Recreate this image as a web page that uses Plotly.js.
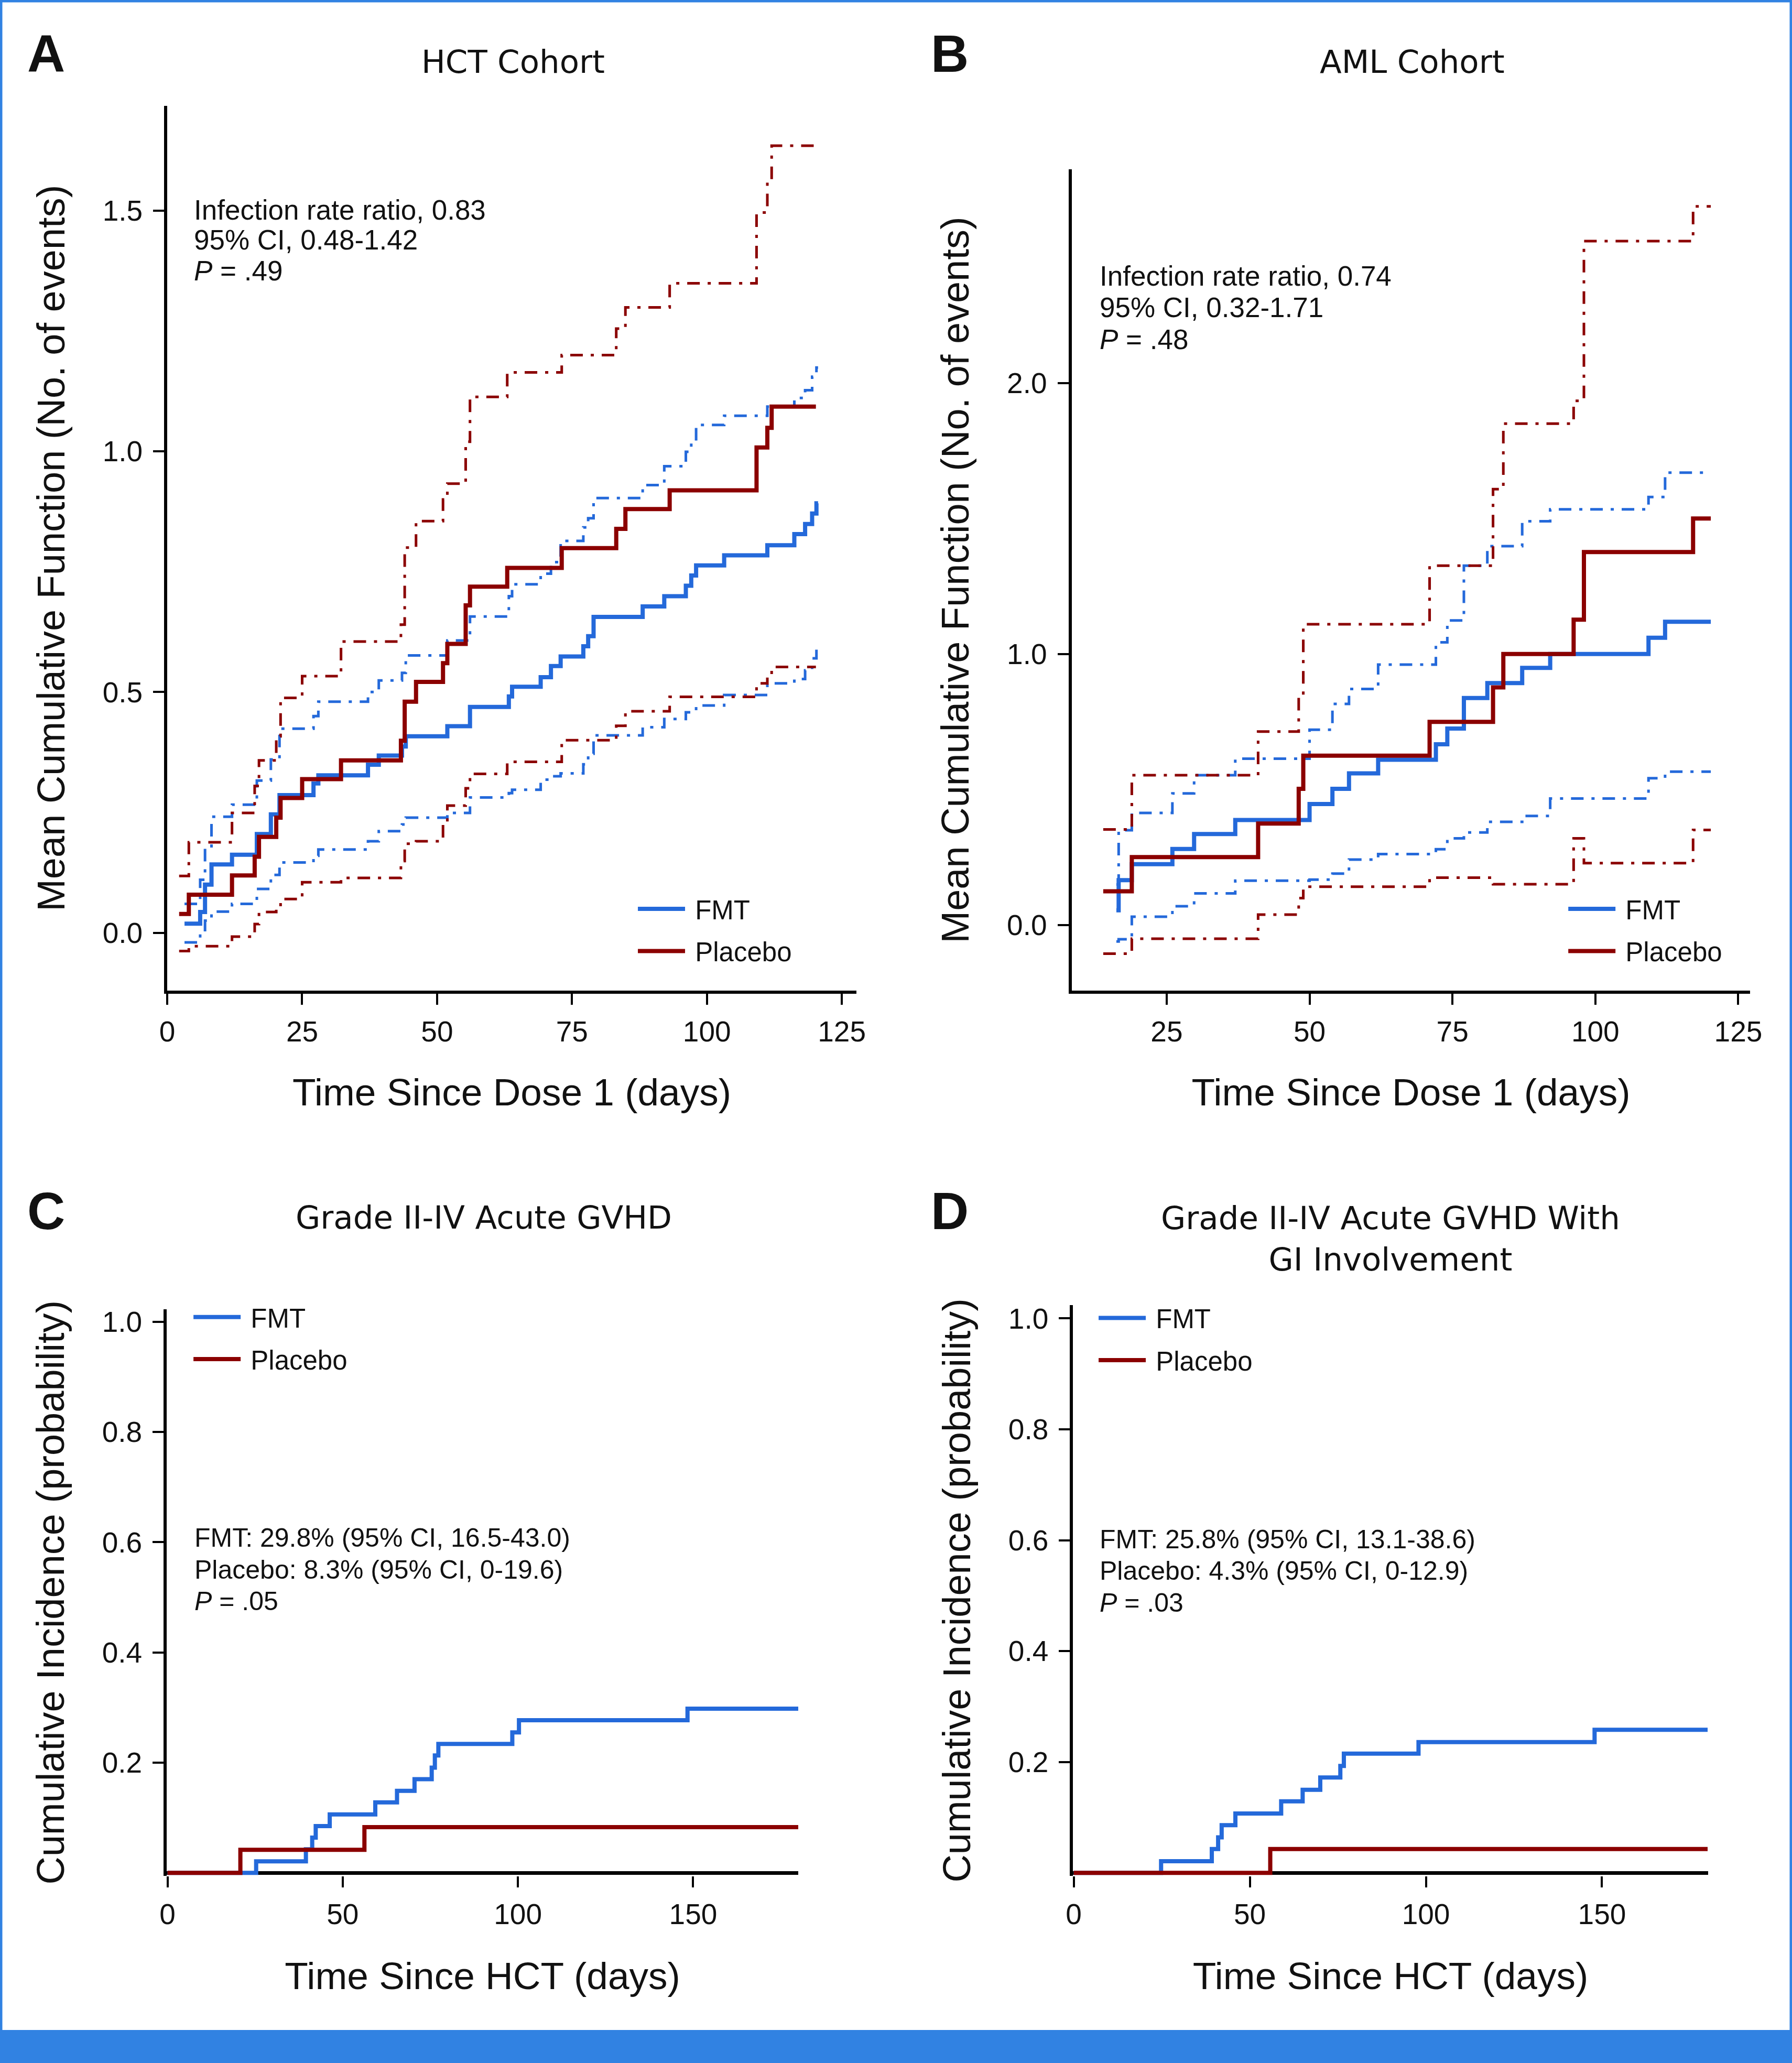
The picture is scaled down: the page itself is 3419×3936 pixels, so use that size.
<!DOCTYPE html>
<html>
<head>
<meta charset="utf-8">
<script src="https://cdn.plot.ly/plotly-3.0.1.min.js"></script>
<style>
  html, body { margin: 0; padding: 0; background: #fff; }
  #chart { width: 3419px; height: 3936px; }
</style>
</head>
<body>
<div id="chart"></div>
<script>
// A: HCT cohort, mean cumulative function of infections (days since dose 1)
var hctFmtDays  = [3.2, 6.1, 7.0, 8.2, 12.0, 16.6, 19.2, 20.8, 27.1, 28.0, 37.2, 39.2, 43.5, 44.2, 51.9, 56.1, 63.3, 63.9, 69.2, 71.1, 72.9, 77.1, 78.0, 79.0, 88.1, 92.1, 96.1, 97.1, 98.0, 103.2, 111.2, 116.2, 118.2, 119.5, 120.3, 120.6];
var hctFmtMean  = [0.019, 0.043, 0.100, 0.142, 0.162, 0.205, 0.246, 0.286, 0.310, 0.327, 0.349, 0.368, 0.387, 0.408, 0.429, 0.469, 0.491, 0.511, 0.531, 0.554, 0.574, 0.595, 0.616, 0.656, 0.678, 0.699, 0.721, 0.742, 0.763, 0.784, 0.805, 0.828, 0.849, 0.871, 0.892, 0.892];
var hctFmtUpper = [0.060, 0.110, 0.175, 0.241, 0.266, 0.316, 0.360, 0.424, 0.450, 0.480, 0.500, 0.524, 0.540, 0.576, 0.607, 0.657, 0.699, 0.724, 0.746, 0.770, 0.814, 0.842, 0.861, 0.903, 0.930, 0.969, 0.999, 1.020, 1.055, 1.074, 1.093, 1.111, 1.127, 1.155, 1.174, 1.174];
var hctFmtLower = [-0.020, 0.000, 0.025, 0.044, 0.060, 0.091, 0.120, 0.146, 0.160, 0.173, 0.190, 0.211, 0.225, 0.239, 0.249, 0.281, 0.290, 0.297, 0.318, 0.325, 0.331, 0.350, 0.372, 0.410, 0.427, 0.444, 0.458, 0.465, 0.472, 0.494, 0.518, 0.527, 0.545, 0.570, 0.596, 0.596];

var hctPlbDays  = [2.2, 4.0, 12.0, 16.2, 17.0, 20.2, 21.0, 25.0, 32.2, 43.3, 44.0, 46.1, 51.1, 51.9, 55.3, 56.1, 63.0, 73.1, 83.2, 84.9, 93.1, 109.2, 111.2, 112.0, 120.2];
var hctPlbMean  = [0.039, 0.079, 0.119, 0.158, 0.199, 0.239, 0.280, 0.319, 0.358, 0.399, 0.480, 0.521, 0.560, 0.600, 0.680, 0.719, 0.758, 0.799, 0.839, 0.880, 0.919, 1.008, 1.049, 1.093, 1.093];
var hctPlbUpper = [0.118, 0.188, 0.249, 0.305, 0.358, 0.408, 0.488, 0.533, 0.605, 0.640, 0.800, 0.855, 0.900, 0.933, 1.020, 1.113, 1.164, 1.200, 1.255, 1.299, 1.349, 1.496, 1.561, 1.635, 1.635];
var hctPlbLower = [-0.038, -0.028, -0.008, 0.018, 0.043, 0.055, 0.070, 0.105, 0.114, 0.149, 0.185, 0.190, 0.225, 0.264, 0.300, 0.330, 0.355, 0.400, 0.430, 0.460, 0.490, 0.518, 0.535, 0.552, 0.552];

// B: AML cohort
var amlFmtDays  = [16.2, 16.6, 18.9, 26.0, 29.8, 37.0, 50.0, 54.0, 56.9, 62.0, 72.1, 74.1, 77.0, 81.1, 87.2, 92.1, 109.3, 112.2, 120.2];
var amlFmtMean  = [0.055, 0.166, 0.225, 0.281, 0.336, 0.388, 0.447, 0.503, 0.560, 0.610, 0.667, 0.725, 0.838, 0.893, 0.949, 1.000, 1.060, 1.119, 1.119];
var amlFmtUpper = [0.150, 0.350, 0.414, 0.486, 0.553, 0.614, 0.721, 0.816, 0.871, 0.961, 1.043, 1.124, 1.326, 1.398, 1.490, 1.534, 1.579, 1.669, 1.669];
var amlFmtLower = [-0.060, -0.052, 0.031, 0.070, 0.117, 0.164, 0.168, 0.190, 0.242, 0.262, 0.280, 0.320, 0.342, 0.381, 0.403, 0.467, 0.542, 0.566, 0.566];

var amlPlbDays  = [13.9, 18.9, 41.0, 48.1, 48.9, 71.0, 82.1, 83.9, 96.2, 98.0, 117.1, 120.2];
var amlPlbMean  = [0.125, 0.251, 0.375, 0.503, 0.625, 0.750, 0.877, 1.000, 1.127, 1.376, 1.500, 1.500];
var amlPlbUpper = [0.353, 0.553, 0.714, 0.847, 1.110, 1.326, 1.608, 1.850, 1.934, 2.523, 2.651, 2.651];
var amlPlbLower = [-0.105, -0.050, 0.039, 0.100, 0.142, 0.175, 0.151, 0.151, 0.320, 0.229, 0.351, 0.351];

// C: grade II-IV acute GVHD, cumulative incidence (days since HCT)
var gvhdFmtDays = [0, 25.3, 39.5, 41.3, 42.3, 46.3, 59.3, 65.5, 70.5, 75.4, 76.3, 77.3, 98.4, 100.3, 148.4, 180];
var gvhdFmtCI   = [0, 0.021, 0.043, 0.064, 0.085, 0.106, 0.128, 0.149, 0.170, 0.191, 0.213, 0.234, 0.255, 0.277, 0.298, 0.298];
var gvhdPlbDays = [0, 20.8, 56.2, 180];
var gvhdPlbCI   = [0, 0.042, 0.083, 0.083];

// D: grade II-IV acute GVHD with GI involvement
var giFmtDays = [0, 24.8, 39.2, 41.0, 42.0, 45.9, 58.9, 65.0, 70.0, 75.7, 76.7, 97.9, 147.9, 180];
var giFmtCI   = [0, 0.021, 0.043, 0.064, 0.086, 0.107, 0.129, 0.150, 0.172, 0.193, 0.215, 0.236, 0.258, 0.258];
var giPlbDays = [0, 55.8, 180];
var giPlbCI   = [0, 0.043, 0.043];

var xTicksA = [0, 25, 50, 75, 100, 125];
var xTicksB = [25, 50, 75, 100, 125];
var yTicksA = [0, 0.5, 1.0, 1.5];
var yTicksB = [0, 1.0, 2.0];
var xTicksCD = [0, 50, 100, 150];
var yTicksCD = [0.2, 0.4, 0.6, 0.8, 1.0];

var BLUE = '#2469da';
var RED = '#8b0000';
var CIDASH = '24px,15px,6px,15px';
var SANS = '"Liberation Sans", Arial, sans-serif';
var WIDE = '"DejaVu Sans", sans-serif';
var NB = '\u00a0';

function step(x, y, color, width, dash, ax, name, legend) {
  return {
    x: x, y: y, type: 'scatter', mode: 'lines',
    line: {shape: 'hv', color: color, width: width, dash: dash || 'solid'},
    xaxis: 'x' + ax, yaxis: 'y' + ax,
    name: name ? NB + name : '', showlegend: !!legend, legend: legend || 'legend',
    legendgroup: name || 'ci',
    hoverinfo: 'skip'
  };
}

var data = [
  step(hctFmtDays, hctFmtUpper, BLUE, 5, CIDASH, ''),
  step(hctFmtDays, hctFmtLower, BLUE, 5, CIDASH, ''),
  step(hctPlbDays, hctPlbUpper, RED, 5, CIDASH, ''),
  step(hctPlbDays, hctPlbLower, RED, 5, CIDASH, ''),
  step(hctFmtDays, hctFmtMean, BLUE, 8, null, '', 'FMT', 'legend'),
  step(hctPlbDays, hctPlbMean, RED, 8, null, '', 'Placebo', 'legend'),

  step(amlFmtDays, amlFmtUpper, BLUE, 5, CIDASH, '2'),
  step(amlFmtDays, amlFmtLower, BLUE, 5, CIDASH, '2'),
  step(amlPlbDays, amlPlbUpper, RED, 5, CIDASH, '2'),
  step(amlPlbDays, amlPlbLower, RED, 5, CIDASH, '2'),
  step(amlFmtDays, amlFmtMean, BLUE, 8, null, '2', 'FMT', 'legend2'),
  step(amlPlbDays, amlPlbMean, RED, 8, null, '2', 'Placebo', 'legend2'),

  step(gvhdFmtDays, gvhdFmtCI, BLUE, 8, null, '3', 'FMT', 'legend3'),
  step(gvhdPlbDays, gvhdPlbCI, RED, 8, null, '3', 'Placebo', 'legend3'),

  step(giFmtDays, giFmtCI, BLUE, 8, null, '4', 'FMT', 'legend4'),
  step(giPlbDays, giPlbCI, RED, 8, null, '4', 'Placebo', 'legend4')
];

function xAxis(domain, range, ticks, anchor, title, line) {
  return {
    domain: domain, range: range, anchor: anchor,
    tickmode: 'array', tickvals: ticks, ticktext: ticks.map(String),
    showline: line, linecolor: '#000', linewidth: 6,
    ticks: 'outside', ticklen: 21, tickwidth: 4, tickcolor: '#000',
    ticklabelstandoff: 4,
    showgrid: false, zeroline: false,
    tickfont: {family: SANS, size: 55, color: '#111'},
    title: {text: title, standoff: 62, font: {family: SANS, size: 73, color: '#111'}}
  };
}

function yAxis(domain, range, ticks, anchor, title, zero) {
  return {
    domain: domain, range: range, anchor: anchor,
    tickmode: 'array', tickvals: ticks, ticktext: ticks.map(function (v) { return v.toFixed(1); }),
    showline: true, linecolor: '#000', linewidth: 6,
    ticks: 'outside', ticklen: 21, tickwidth: 4, tickcolor: '#000',
    ticklabelstandoff: 9,
    showgrid: false,
    zeroline: zero, zerolinecolor: '#000', zerolinewidth: 7,
    tickfont: {family: SANS, size: 55, color: '#111'},
    title: {text: title, standoff: 50, font: {family: SANS, size: 74, color: '#111'}}
  };
}

function legendAt(x, y) {
  return {
    x: x, y: y, xanchor: 'left', yanchor: 'top',
    bgcolor: 'rgba(0,0,0,0)', borderwidth: 0,
    font: {family: SANS, size: 51, color: '#111'},
    itemwidth: 90, tracegroupgap: 11
  };
}

function note(x, y, text, size, family, anchor) {
  return {
    xref: 'paper', yref: 'paper', x: x, y: y, text: text, showarrow: false,
    xanchor: anchor || 'left', yanchor: 'middle', align: anchor || 'left',
    font: {family: family || SANS, size: size || 51, color: '#111'}
  };
}

var mcfTitle = 'Mean Cumulative Function (No. of events)';
var ciTitle = 'Cumulative Incidence (probability)';

var layout = {
  width: 3419, height: 3936,
  margin: {l: 0, r: 0, t: 0, b: 0, pad: 0},
  paper_bgcolor: '#fff', plot_bgcolor: 'rgba(0,0,0,0)',
  hovermode: false,
  xaxis:  xAxis([0.09333, 0.47789], [0, 127.7], xTicksA, 'y', 'Time Since Dose 1 (days)', true),
  yaxis:  yAxis([0.51987, 0.94875], [-0.12, 1.718], yTicksA, 'x', mcfTitle, false),
  xaxis2: xAxis([0.59800, 0.97670], [8.37, 127.1], xTicksB, 'y2', 'Time Since Dose 1 (days)', true),
  yaxis2: yAxis([0.51987, 0.91794], [-0.241, 2.788], yTicksB, 'x2', mcfTitle, false),
  xaxis3: xAxis([0.09307, 0.44545], [-0.2, 180], xTicksCD, 'y3', 'Time Since HCT (days)', false),
  yaxis3: yAxis([0.09080, 0.36539], [-0.005, 1.0227], yTicksCD, 'x3', ciTitle, true),
  xaxis4: xAxis([0.59880, 0.95311], [-0.2, 180.1], xTicksCD, 'y4', 'Time Since HCT (days)', false),
  yaxis4: yAxis([0.09080, 0.36738], [-0.005, 1.024], yTicksCD, 'x4', ciTitle, true),
  legend:  legendAt(0.3545, 0.5695),
  legend2: legendAt(0.8737, 0.5695),
  legend3: legendAt(0.1065, 0.3717),
  legend4: legendAt(0.6116, 0.3712),
  annotations: [
    note(0.0257, 0.9741, '<b>A</b>', 100, SANS, 'center'),
    note(0.5300, 0.9741, '<b>B</b>', 100, SANS, 'center'),
    note(0.0257, 0.4131, '<b>C</b>', 100, SANS, 'center'),
    note(0.5300, 0.4131, '<b>D</b>', 100, SANS, 'center'),

    note(0.28634, 0.97027, 'HCT Cohort', 61, WIDE, 'center'),
    note(0.78824, 0.97027, 'AML Cohort', 61, WIDE, 'center'),
    note(0.26982, 0.41006, 'Grade II-IV Acute GVHD', 61, WIDE, 'center'),
    note(0.77596, 0.39964, 'Grade II-IV Acute GVHD With<br>GI Involvement', 61, WIDE, 'center'),

    note(0.10763, 0.89837, 'Infection rate ratio, 0.83', 53),
    note(0.10763, 0.88364, '95% CI, 0.48-1.42', 53),
    note(0.10763, 0.86890, '<i>P</i> = .49', 53),

    note(0.61304, 0.86624, 'Infection rate ratio, 0.74', 53),
    note(0.61304, 0.85087, '95% CI, 0.32-1.71', 53),
    note(0.61304, 0.83537, '<i>P</i> = .48', 53),

    note(0.10807, 0.25457, 'FMT: 29.8% (95% CI, 16.5-43.0)', 50),
    note(0.10807, 0.23908, 'Placebo: 8.3% (95% CI, 0-19.6)', 50),
    note(0.10807, 0.22383, '<i>P</i> = .05', 50),

    note(0.61304, 0.25381, 'FMT: 25.8% (95% CI, 13.1-38.6)', 50),
    note(0.61304, 0.23857, 'Placebo: 4.3% (95% CI, 0-12.9)', 50),
    note(0.61304, 0.22307, '<i>P</i> = .03', 50)
  ],
  shapes: [
    {type: 'rect', xref: 'paper', yref: 'paper', x0: 0, x1: 1, y0: 0, y1: 1,
     line: {color: '#3182e2', width: 9}, fillcolor: 'rgba(0,0,0,0)'},
    {type: 'rect', xref: 'paper', yref: 'paper', x0: 0, x1: 1, y0: 0, y1: 0.016,
     line: {width: 0}, fillcolor: '#3182e2'}
  ]
};

Plotly.newPlot('chart', data, layout, {displayModeBar: false, staticPlot: true});
</script>
</body>
</html>
